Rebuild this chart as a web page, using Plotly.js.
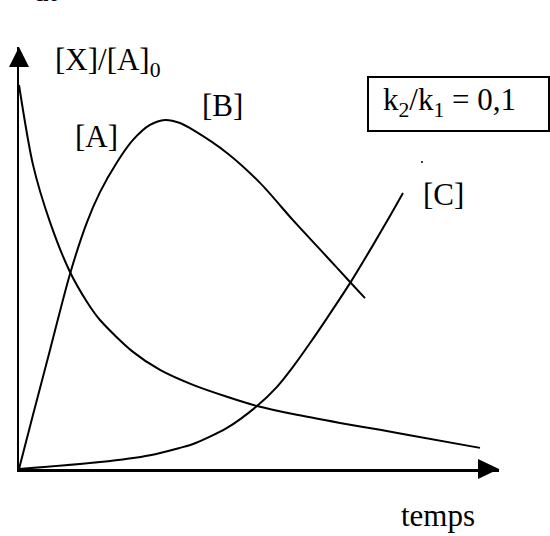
<!DOCTYPE html>
<html>
<head>
<meta charset="utf-8">
<script src="https://cdn.plot.ly/plotly-3.0.1.min.js"></script>
<style>html,body{margin:0;padding:0;background:#fff;}#chart{width:550px;height:536px;}</style>
</head>
<body>
<div id="chart"></div>
<script>
// time (arbitrary units) and concentration ratio [X]/[A]0
const tA = [0, 0.292, 0.646, 1.0625, 1.417, 1.6875, 2.375, 2.9375, 3.625, 4.333, 4.958, 5.708, 6.688, 7.521, 8.083, 9.604];
const cA = [1.0, 0.792, 0.643, 0.513, 0.435, 0.388, 0.305, 0.258, 0.219, 0.188, 0.164, 0.143, 0.120, 0.102, 0.089, 0.055];

const tB = [0, 0.292, 0.646, 1.0625, 1.417, 1.6875, 2.042, 2.375, 2.729, 3.042, 3.354, 3.625, 4.333, 5.021, 5.708, 6.417, 6.896, 7.208];
const cB = [0, 0.141, 0.310, 0.508, 0.643, 0.721, 0.799, 0.857, 0.896, 0.909, 0.901, 0.883, 0.823, 0.745, 0.648, 0.552, 0.487, 0.445];

const tC = [0, 1.69, 2.73, 3.35, 3.625, 4.333, 4.958, 5.375, 5.708, 6.063, 6.417, 6.896, 7.375, 7.729, 8.0];
const cC = [0, 0.018, 0.036, 0.055, 0.065, 0.107, 0.164, 0.214, 0.266, 0.328, 0.393, 0.484, 0.583, 0.659, 0.719];

const seriesNames = ['[A]', '[B]', '[C]'];
const ratioLabel = 'k<sub>2</sub>/k<sub>1</sub> = 0,1';
const yLabel = '[X]/[A]<sub>0</sub>';
const xLabel = 'temps';

// layout geometry
const W = 550, H = 536;
const L = 19, R = 51, T = 47, B = 67;
const PW = W - L - R, PH = H - T - B;
const px = v => (v - L) / PW;          // page pixel -> paper x
const py = v => (H - B - v) / PH;      // page pixel -> paper y

const FONT = 'Liberation Serif, Times New Roman, serif';
const lineStyle = {color: '#000', width: 2, shape: 'spline', smoothing: 0.8};

const traces = [
  {x: tA, y: cA, name: seriesNames[0], mode: 'lines', line: lineStyle, hoverinfo: 'skip', cliponaxis: false},
  {x: tB, y: cB, name: seriesNames[1], mode: 'lines', line: lineStyle, hoverinfo: 'skip', cliponaxis: false},
  {x: tC, y: cC, name: seriesNames[2], mode: 'lines', line: lineStyle, hoverinfo: 'skip', cliponaxis: false}
];

const shapes = [
  // y arrowhead
  {type: 'path', xref: 'paper', yref: 'paper',
   path: `M ${px(19)} ${py(47)} L ${px(9)} ${py(67)} L ${px(29)} ${py(67)} Z`,
   fillcolor: '#000', line: {width: 0}},
  // x arrowhead
  {type: 'path', xref: 'paper', yref: 'paper',
   path: `M ${px(499)} ${py(469)} L ${px(478)} ${py(459)} L ${px(478)} ${py(479)} Z`,
   fillcolor: '#000', line: {width: 0}},
  // ratio box
  {type: 'rect', xref: 'paper', yref: 'paper',
   x0: px(368), x1: px(549), y0: py(131), y1: py(77),
   line: {color: '#000', width: 2}, fillcolor: 'rgba(0,0,0,0)'},
  // small stray dot
  {type: 'circle', xref: 'paper', yref: 'paper',
   x0: px(421), x1: px(423), y0: py(163), y1: py(161),
   fillcolor: '#000', line: {width: 0}}
];

const f = {family: FONT, size: 31, color: '#000'};
const annotations = [
  {text: yLabel, xref: 'paper', yref: 'paper', x: px(53), y: py(62), xanchor: 'left', yanchor: 'middle', showarrow: false, font: f},
  {text: seriesNames[0], xref: 'paper', yref: 'paper', x: px(96), y: py(136), xanchor: 'center', yanchor: 'middle', showarrow: false, font: f},
  {text: seriesNames[1], xref: 'paper', yref: 'paper', x: px(222), y: py(106), xanchor: 'center', yanchor: 'middle', showarrow: false, font: f},
  {text: seriesNames[2], xref: 'paper', yref: 'paper', x: px(443), y: py(195), xanchor: 'center', yanchor: 'middle', showarrow: false, font: f},
  {text: xLabel, xref: 'paper', yref: 'paper', x: px(438), y: py(515), xanchor: 'center', yanchor: 'middle', showarrow: false, font: f},
  {text: ratioLabel, xref: 'paper', yref: 'paper', x: px(381), y: py(102), xanchor: 'left', yanchor: 'middle', showarrow: false, font: f},
  {text: 'dt', xref: 'paper', yref: 'paper', x: px(45), y: py(10), xanchor: 'center', yanchor: 'bottom', showarrow: false, font: f}
];

const layout = {
  width: W, height: H,
  margin: {l: L, r: R, t: T, b: B, pad: 0},
  paper_bgcolor: '#fff', plot_bgcolor: '#fff',
  showlegend: false,
  xaxis: {range: [0, 10], showgrid: false, zeroline: false, showticklabels: false, ticks: '',
          showline: true, linecolor: '#000', linewidth: 2.5, fixedrange: true},
  yaxis: {range: [0, PH / 384], showgrid: false, zeroline: false, showticklabels: false, ticks: '',
          showline: true, linecolor: '#000', linewidth: 2.5, fixedrange: true},
  shapes: shapes,
  annotations: annotations
};

Plotly.newPlot('chart', traces, layout, {staticPlot: true, displayModeBar: false});
</script>
</body>
</html>
